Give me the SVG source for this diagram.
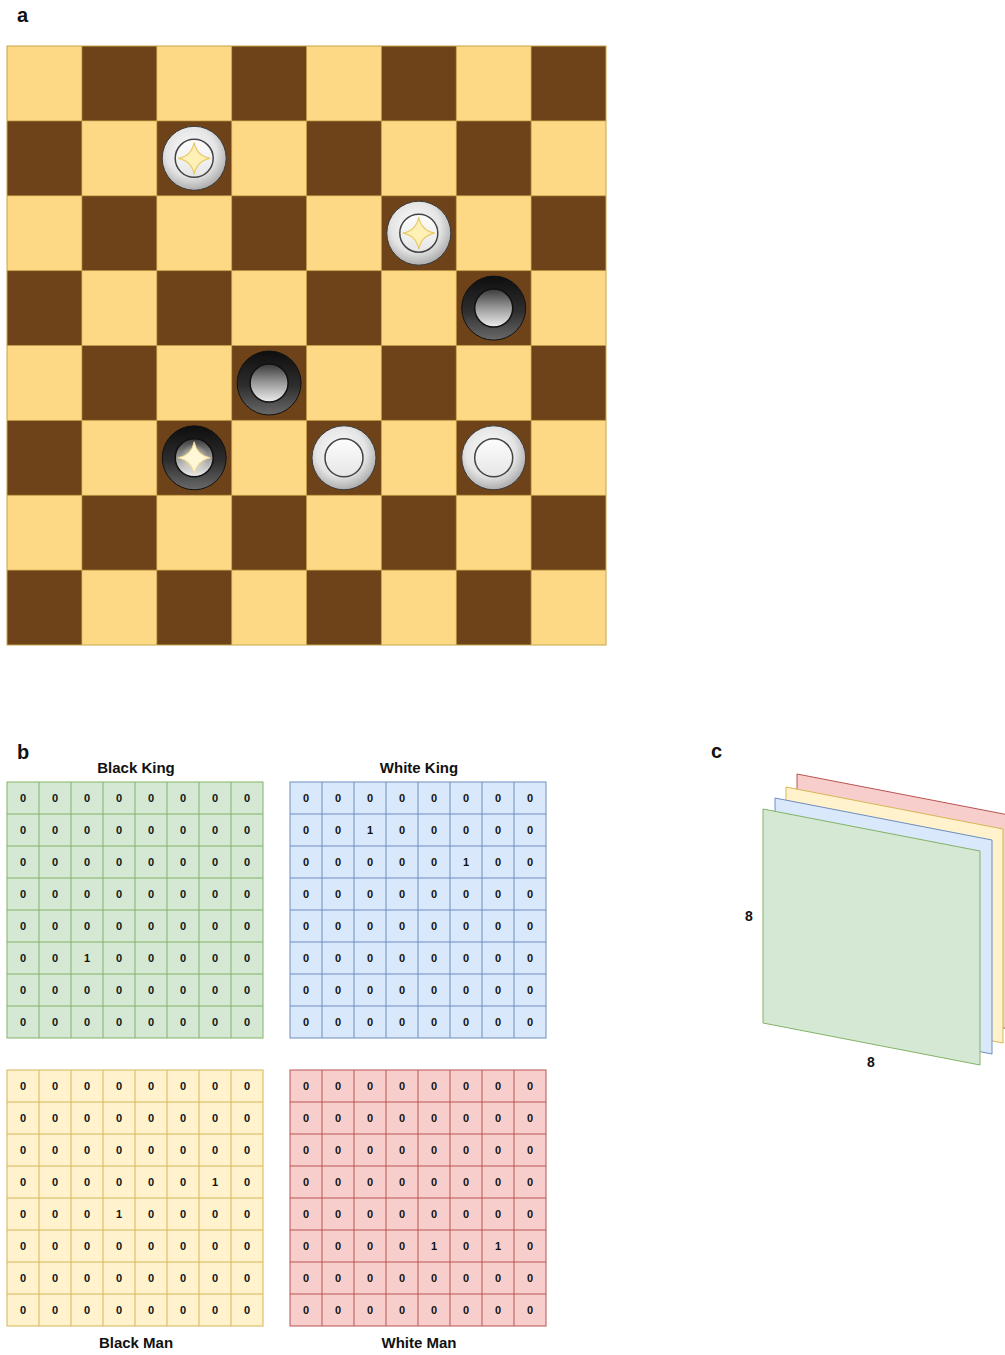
<svg xmlns="http://www.w3.org/2000/svg" xmlns:xlink="http://www.w3.org/1999/xlink" width="1005" height="1355" viewBox="0 0 1005 1355">
<style>
.lbl{font-family:"Liberation Sans",Arial,sans-serif;font-weight:bold;fill:#111}
.pl{font-size:20px}
.tt{font-size:15px;text-anchor:middle}
.d text{font-family:"Liberation Sans",Arial,sans-serif;font-weight:bold;font-size:11px;text-anchor:middle;dominant-baseline:central;fill:#111}
.dk{fill:#6e4319}
</style>
<defs>
<radialGradient id="wOut" cx="0.45" cy="0.4" r="0.65">
<stop offset="0" stop-color="#ffffff"/><stop offset="0.6" stop-color="#e4e4e4"/><stop offset="1" stop-color="#a0a0a0"/>
</radialGradient>
<linearGradient id="wIn" x1="0" y1="0" x2="0" y2="1">
<stop offset="0" stop-color="#fdfdfd"/><stop offset="1" stop-color="#e6e6e6"/>
</linearGradient>
<linearGradient id="bOut" x1="0" y1="0" x2="0" y2="1">
<stop offset="0" stop-color="#0e0e0e"/><stop offset="0.55" stop-color="#2e2e2e"/><stop offset="1" stop-color="#6a6a6a"/>
</linearGradient>
<linearGradient id="bIn" x1="0" y1="0" x2="0" y2="1">
<stop offset="0" stop-color="#3a3a3a"/><stop offset="0.5" stop-color="#9a9a9a"/><stop offset="1" stop-color="#eeeeee"/>
</linearGradient>
<radialGradient id="glow" cx="0.5" cy="0.5" r="0.5">
<stop offset="0" stop-color="#fff6cf" stop-opacity="0.9"/><stop offset="1" stop-color="#fff6cf" stop-opacity="0"/>
</radialGradient>
<path id="star" d="M0,-16 Q2.5,-2.5 16,0 Q2.5,2.5 0,16 Q-2.5,2.5 -16,0 Q-2.5,-2.5 0,-16Z"/>
<g id="whiteMan">
<circle r="32" fill="url(#wOut)" stroke="#3a3a3a" stroke-width="1"/>
<circle r="19" fill="url(#wIn)" stroke="#444" stroke-width="1.5"/>
</g>
<g id="whiteKing">
<use xlink:href="#whiteMan"/>
<use xlink:href="#star" fill="#fff1b5" stroke="#e8ca6a" stroke-width="1.2"/>
</g>
<g id="blackMan">
<circle r="32" fill="url(#bOut)" stroke="#111" stroke-width="1"/>
<circle r="19" fill="url(#bIn)" stroke="#111" stroke-width="1.5"/>
</g>
<g id="blackKing">
<circle r="32" fill="url(#bOut)" stroke="#111" stroke-width="1"/>
<circle r="19" fill="url(#bIn)" stroke="#111" stroke-width="1.5"/>
<circle r="14" fill="url(#glow)"/>
<use xlink:href="#star" fill="#fff7d6" stroke="#f3de93" stroke-width="1"/>
</g>
</defs>
<rect width="1005" height="1355" fill="#ffffff"/>

<text class="lbl pl" x="17" y="22">a</text>
<text class="lbl pl" x="17" y="759">b</text>
<text class="lbl pl" x="711" y="758">c</text>

<g id="board">
<rect x="7" y="46" width="599" height="599" fill="#fed985"/>
<g class="dk">
<rect x="81.9" y="46" width="74.9" height="74.9"/><rect x="231.7" y="46" width="74.9" height="74.9"/><rect x="381.4" y="46" width="74.9" height="74.9"/><rect x="531.1" y="46" width="74.9" height="74.9"/>
<rect x="7" y="120.9" width="74.9" height="74.9"/><rect x="156.8" y="120.9" width="74.9" height="74.9"/><rect x="306.5" y="120.9" width="74.9" height="74.9"/><rect x="456.3" y="120.9" width="74.9" height="74.9"/>
<rect x="81.9" y="195.8" width="74.9" height="74.9"/><rect x="231.7" y="195.8" width="74.9" height="74.9"/><rect x="381.4" y="195.8" width="74.9" height="74.9"/><rect x="531.1" y="195.8" width="74.9" height="74.9"/>
<rect x="7" y="270.6" width="74.9" height="74.9"/><rect x="156.8" y="270.6" width="74.9" height="74.9"/><rect x="306.5" y="270.6" width="74.9" height="74.9"/><rect x="456.3" y="270.6" width="74.9" height="74.9"/>
<rect x="81.9" y="345.5" width="74.9" height="74.9"/><rect x="231.7" y="345.5" width="74.9" height="74.9"/><rect x="381.4" y="345.5" width="74.9" height="74.9"/><rect x="531.1" y="345.5" width="74.9" height="74.9"/>
<rect x="7" y="420.4" width="74.9" height="74.9"/><rect x="156.8" y="420.4" width="74.9" height="74.9"/><rect x="306.5" y="420.4" width="74.9" height="74.9"/><rect x="456.3" y="420.4" width="74.9" height="74.9"/>
<rect x="81.9" y="495.3" width="74.9" height="74.9"/><rect x="231.7" y="495.3" width="74.9" height="74.9"/><rect x="381.4" y="495.3" width="74.9" height="74.9"/><rect x="531.1" y="495.3" width="74.9" height="74.9"/>
<rect x="7" y="570.1" width="74.9" height="74.9"/><rect x="156.8" y="570.1" width="74.9" height="74.9"/><rect x="306.5" y="570.1" width="74.9" height="74.9"/><rect x="456.3" y="570.1" width="74.9" height="74.9"/>
</g>
<path d="M81.9,46V645M156.8,46V645M231.7,46V645M306.5,46V645M381.4,46V645M456.3,46V645M531.1,46V645M7,120.9H606M7,195.8H606M7,270.6H606M7,345.5H606M7,420.4H606M7,495.3H606M7,570.1H606" stroke="#c9a448" stroke-width="0.8" fill="none" opacity="0.8"/>
<rect x="7" y="46" width="599" height="599" fill="none" stroke="#c9a448" stroke-width="1"/>
</g>

<g id="piece-wk1" transform="translate(194.2,158.3)"><use xlink:href="#whiteKing"/></g>
<g id="piece-wk2" transform="translate(418.8,233.2)"><use xlink:href="#whiteKing"/></g>
<g id="piece-bm1" transform="translate(493.7,308.1)"><use xlink:href="#blackMan"/></g>
<g id="piece-bm2" transform="translate(269.1,383)"><use xlink:href="#blackMan"/></g>
<g id="piece-bk1" transform="translate(194.2,457.8)"><use xlink:href="#blackKing"/></g>
<g id="piece-wm1" transform="translate(344,457.8)"><use xlink:href="#whiteMan"/></g>
<g id="piece-wm2" transform="translate(493.7,457.8)"><use xlink:href="#whiteMan"/></g>

<!-- Panel b -->
<text class="lbl tt" x="136" y="773">Black King</text>
<text class="lbl tt" x="419" y="773">White King</text>
<text class="lbl tt" x="136" y="1348">Black Man</text>
<text class="lbl tt" x="419" y="1348">White Man</text>

<g id="grid-black-king" class="d">
<rect x="7" y="782" width="256" height="256" fill="#d5e8d4" stroke="#82b366"/>
<path d="M39,782V1038M71,782V1038M103,782V1038M135,782V1038M167,782V1038M199,782V1038M231,782V1038M7,814H263M7,846H263M7,878H263M7,910H263M7,942H263M7,974H263M7,1006H263" stroke="#82b366" fill="none"/>
<text x="23" y="798">0</text><text x="55" y="798">0</text><text x="87" y="798">0</text><text x="119" y="798">0</text><text x="151" y="798">0</text><text x="183" y="798">0</text><text x="215" y="798">0</text><text x="247" y="798">0</text>
<text x="23" y="830">0</text><text x="55" y="830">0</text><text x="87" y="830">0</text><text x="119" y="830">0</text><text x="151" y="830">0</text><text x="183" y="830">0</text><text x="215" y="830">0</text><text x="247" y="830">0</text>
<text x="23" y="862">0</text><text x="55" y="862">0</text><text x="87" y="862">0</text><text x="119" y="862">0</text><text x="151" y="862">0</text><text x="183" y="862">0</text><text x="215" y="862">0</text><text x="247" y="862">0</text>
<text x="23" y="894">0</text><text x="55" y="894">0</text><text x="87" y="894">0</text><text x="119" y="894">0</text><text x="151" y="894">0</text><text x="183" y="894">0</text><text x="215" y="894">0</text><text x="247" y="894">0</text>
<text x="23" y="926">0</text><text x="55" y="926">0</text><text x="87" y="926">0</text><text x="119" y="926">0</text><text x="151" y="926">0</text><text x="183" y="926">0</text><text x="215" y="926">0</text><text x="247" y="926">0</text>
<text x="23" y="958">0</text><text x="55" y="958">0</text><text x="87" y="958">1</text><text x="119" y="958">0</text><text x="151" y="958">0</text><text x="183" y="958">0</text><text x="215" y="958">0</text><text x="247" y="958">0</text>
<text x="23" y="990">0</text><text x="55" y="990">0</text><text x="87" y="990">0</text><text x="119" y="990">0</text><text x="151" y="990">0</text><text x="183" y="990">0</text><text x="215" y="990">0</text><text x="247" y="990">0</text>
<text x="23" y="1022">0</text><text x="55" y="1022">0</text><text x="87" y="1022">0</text><text x="119" y="1022">0</text><text x="151" y="1022">0</text><text x="183" y="1022">0</text><text x="215" y="1022">0</text><text x="247" y="1022">0</text>
</g>

<g id="grid-white-king" class="d">
<rect x="290" y="782" width="256" height="256" fill="#dae8fc" stroke="#6c8ebf"/>
<path d="M322,782V1038M354,782V1038M386,782V1038M418,782V1038M450,782V1038M482,782V1038M514,782V1038M290,814H546M290,846H546M290,878H546M290,910H546M290,942H546M290,974H546M290,1006H546" stroke="#6c8ebf" fill="none"/>
<text x="306" y="798">0</text><text x="338" y="798">0</text><text x="370" y="798">0</text><text x="402" y="798">0</text><text x="434" y="798">0</text><text x="466" y="798">0</text><text x="498" y="798">0</text><text x="530" y="798">0</text>
<text x="306" y="830">0</text><text x="338" y="830">0</text><text x="370" y="830">1</text><text x="402" y="830">0</text><text x="434" y="830">0</text><text x="466" y="830">0</text><text x="498" y="830">0</text><text x="530" y="830">0</text>
<text x="306" y="862">0</text><text x="338" y="862">0</text><text x="370" y="862">0</text><text x="402" y="862">0</text><text x="434" y="862">0</text><text x="466" y="862">1</text><text x="498" y="862">0</text><text x="530" y="862">0</text>
<text x="306" y="894">0</text><text x="338" y="894">0</text><text x="370" y="894">0</text><text x="402" y="894">0</text><text x="434" y="894">0</text><text x="466" y="894">0</text><text x="498" y="894">0</text><text x="530" y="894">0</text>
<text x="306" y="926">0</text><text x="338" y="926">0</text><text x="370" y="926">0</text><text x="402" y="926">0</text><text x="434" y="926">0</text><text x="466" y="926">0</text><text x="498" y="926">0</text><text x="530" y="926">0</text>
<text x="306" y="958">0</text><text x="338" y="958">0</text><text x="370" y="958">0</text><text x="402" y="958">0</text><text x="434" y="958">0</text><text x="466" y="958">0</text><text x="498" y="958">0</text><text x="530" y="958">0</text>
<text x="306" y="990">0</text><text x="338" y="990">0</text><text x="370" y="990">0</text><text x="402" y="990">0</text><text x="434" y="990">0</text><text x="466" y="990">0</text><text x="498" y="990">0</text><text x="530" y="990">0</text>
<text x="306" y="1022">0</text><text x="338" y="1022">0</text><text x="370" y="1022">0</text><text x="402" y="1022">0</text><text x="434" y="1022">0</text><text x="466" y="1022">0</text><text x="498" y="1022">0</text><text x="530" y="1022">0</text>
</g>

<g id="grid-black-man" class="d">
<rect x="7" y="1070" width="256" height="256" fill="#fff2cc" stroke="#d6b656"/>
<path d="M39,1070V1326M71,1070V1326M103,1070V1326M135,1070V1326M167,1070V1326M199,1070V1326M231,1070V1326M7,1102H263M7,1134H263M7,1166H263M7,1198H263M7,1230H263M7,1262H263M7,1294H263" stroke="#d6b656" fill="none"/>
<text x="23" y="1086">0</text><text x="55" y="1086">0</text><text x="87" y="1086">0</text><text x="119" y="1086">0</text><text x="151" y="1086">0</text><text x="183" y="1086">0</text><text x="215" y="1086">0</text><text x="247" y="1086">0</text>
<text x="23" y="1118">0</text><text x="55" y="1118">0</text><text x="87" y="1118">0</text><text x="119" y="1118">0</text><text x="151" y="1118">0</text><text x="183" y="1118">0</text><text x="215" y="1118">0</text><text x="247" y="1118">0</text>
<text x="23" y="1150">0</text><text x="55" y="1150">0</text><text x="87" y="1150">0</text><text x="119" y="1150">0</text><text x="151" y="1150">0</text><text x="183" y="1150">0</text><text x="215" y="1150">0</text><text x="247" y="1150">0</text>
<text x="23" y="1182">0</text><text x="55" y="1182">0</text><text x="87" y="1182">0</text><text x="119" y="1182">0</text><text x="151" y="1182">0</text><text x="183" y="1182">0</text><text x="215" y="1182">1</text><text x="247" y="1182">0</text>
<text x="23" y="1214">0</text><text x="55" y="1214">0</text><text x="87" y="1214">0</text><text x="119" y="1214">1</text><text x="151" y="1214">0</text><text x="183" y="1214">0</text><text x="215" y="1214">0</text><text x="247" y="1214">0</text>
<text x="23" y="1246">0</text><text x="55" y="1246">0</text><text x="87" y="1246">0</text><text x="119" y="1246">0</text><text x="151" y="1246">0</text><text x="183" y="1246">0</text><text x="215" y="1246">0</text><text x="247" y="1246">0</text>
<text x="23" y="1278">0</text><text x="55" y="1278">0</text><text x="87" y="1278">0</text><text x="119" y="1278">0</text><text x="151" y="1278">0</text><text x="183" y="1278">0</text><text x="215" y="1278">0</text><text x="247" y="1278">0</text>
<text x="23" y="1310">0</text><text x="55" y="1310">0</text><text x="87" y="1310">0</text><text x="119" y="1310">0</text><text x="151" y="1310">0</text><text x="183" y="1310">0</text><text x="215" y="1310">0</text><text x="247" y="1310">0</text>
</g>

<g id="grid-white-man" class="d">
<rect x="290" y="1070" width="256" height="256" fill="#f8cecc" stroke="#b85450"/>
<path d="M322,1070V1326M354,1070V1326M386,1070V1326M418,1070V1326M450,1070V1326M482,1070V1326M514,1070V1326M290,1102H546M290,1134H546M290,1166H546M290,1198H546M290,1230H546M290,1262H546M290,1294H546" stroke="#b85450" fill="none"/>
<text x="306" y="1086">0</text><text x="338" y="1086">0</text><text x="370" y="1086">0</text><text x="402" y="1086">0</text><text x="434" y="1086">0</text><text x="466" y="1086">0</text><text x="498" y="1086">0</text><text x="530" y="1086">0</text>
<text x="306" y="1118">0</text><text x="338" y="1118">0</text><text x="370" y="1118">0</text><text x="402" y="1118">0</text><text x="434" y="1118">0</text><text x="466" y="1118">0</text><text x="498" y="1118">0</text><text x="530" y="1118">0</text>
<text x="306" y="1150">0</text><text x="338" y="1150">0</text><text x="370" y="1150">0</text><text x="402" y="1150">0</text><text x="434" y="1150">0</text><text x="466" y="1150">0</text><text x="498" y="1150">0</text><text x="530" y="1150">0</text>
<text x="306" y="1182">0</text><text x="338" y="1182">0</text><text x="370" y="1182">0</text><text x="402" y="1182">0</text><text x="434" y="1182">0</text><text x="466" y="1182">0</text><text x="498" y="1182">0</text><text x="530" y="1182">0</text>
<text x="306" y="1214">0</text><text x="338" y="1214">0</text><text x="370" y="1214">0</text><text x="402" y="1214">0</text><text x="434" y="1214">0</text><text x="466" y="1214">0</text><text x="498" y="1214">0</text><text x="530" y="1214">0</text>
<text x="306" y="1246">0</text><text x="338" y="1246">0</text><text x="370" y="1246">0</text><text x="402" y="1246">0</text><text x="434" y="1246">1</text><text x="466" y="1246">0</text><text x="498" y="1246">1</text><text x="530" y="1246">0</text>
<text x="306" y="1278">0</text><text x="338" y="1278">0</text><text x="370" y="1278">0</text><text x="402" y="1278">0</text><text x="434" y="1278">0</text><text x="466" y="1278">0</text><text x="498" y="1278">0</text><text x="530" y="1278">0</text>
<text x="306" y="1310">0</text><text x="338" y="1310">0</text><text x="370" y="1310">0</text><text x="402" y="1310">0</text><text x="434" y="1310">0</text><text x="466" y="1310">0</text><text x="498" y="1310">0</text><text x="530" y="1310">0</text>
</g>

<!-- Panel c -->
<g id="stack">
<path id="sheet-red" d="M797,774 L1014,816 L1014,1030 L797,988 Z" fill="#f8cecc" stroke="#b85450" stroke-width="1"/>
<path id="sheet-yellow" d="M786,787 L1003,829 L1003,1043 L786,1001 Z" fill="#fff2cc" stroke="#d6b656" stroke-width="1"/>
<path id="sheet-blue" d="M775,798 L992,840 L992,1054 L775,1012 Z" fill="#dae8fc" stroke="#6c8ebf" stroke-width="1"/>
<path id="sheet-green" d="M763,809 L980,851 L980,1065 L763,1023 Z" fill="#d5e8d4" stroke="#82b366" stroke-width="1"/>
</g>
<text class="lbl" x="749" y="921" font-size="14" text-anchor="middle">8</text>
<text class="lbl" x="871" y="1067" font-size="14" text-anchor="middle">8</text>
</svg>
